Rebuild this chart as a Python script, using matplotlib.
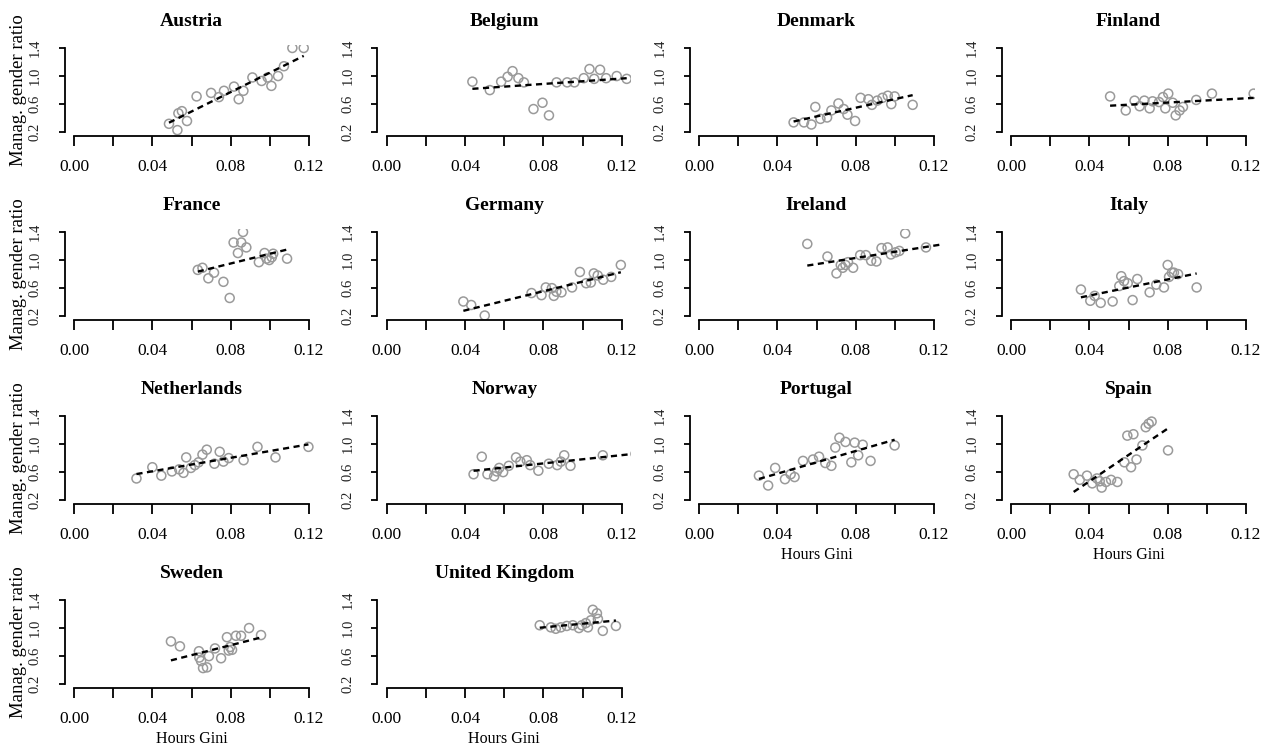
import numpy as np
import matplotlib.pyplot as plt

plt.rcParams['font.family'] = ['Liberation Serif', 'DejaVu Serif']

# hours Gini (x) and managerial gender ratio (y), one pair of arrays per country
austria_x = [0.0485, 0.0528, 0.0533, 0.0551, 0.0577, 0.0626, 0.0700, 0.0740, 0.0766, 0.0817,
             0.0841, 0.0865, 0.0911, 0.0958, 0.0989, 0.1008, 0.1042, 0.1072, 0.1115, 0.1173]
austria_y = [0.32, 0.23, 0.47, 0.50, 0.36, 0.71, 0.76, 0.70, 0.79, 0.85,
             0.67, 0.79, 0.98, 0.93, 0.98, 0.86, 1.00, 1.14, 1.40, 1.40]

belgium_x = [0.0437, 0.0526, 0.0584, 0.0617, 0.0642, 0.0672, 0.0700, 0.0749, 0.0795, 0.0828,
             0.0867, 0.0921, 0.0958, 0.1006, 0.1035, 0.1059, 0.1089, 0.1120, 0.1174, 0.1225]
belgium_y = [0.92, 0.80, 0.92, 0.99, 1.07, 0.97, 0.91, 0.53, 0.62, 0.44,
             0.91, 0.91, 0.91, 0.97, 1.10, 0.96, 1.09, 0.97, 1.00, 0.96]

denmark_x = [0.0483, 0.0536, 0.0574, 0.0594, 0.0620, 0.0654, 0.0676, 0.0712, 0.0739, 0.0758,
             0.0797, 0.0825, 0.0865, 0.0883, 0.0910, 0.0937, 0.0964, 0.0982, 0.0999, 0.1091]
denmark_y = [0.34, 0.34, 0.31, 0.56, 0.39, 0.41, 0.51, 0.61, 0.53, 0.45,
             0.36, 0.69, 0.67, 0.59, 0.65, 0.69, 0.72, 0.60, 0.71, 0.59]

finland_x = [0.0506, 0.0586, 0.0631, 0.0657, 0.0681, 0.0708, 0.0723, 0.0756, 0.0776, 0.0788,
             0.0803, 0.0826, 0.0841, 0.0861, 0.0878, 0.0946, 0.1026, 0.1239]
finland_y = [0.71, 0.51, 0.65, 0.57, 0.65, 0.54, 0.64, 0.63, 0.70, 0.54,
             0.75, 0.62, 0.44, 0.51, 0.56, 0.66, 0.75, 0.75]

france_x = [0.0632, 0.0656, 0.0686, 0.0715, 0.0763, 0.0795, 0.0815, 0.0837, 0.0854, 0.0863,
            0.0880, 0.0944, 0.0973, 0.0983, 0.0997, 0.1010, 0.1017, 0.1088]
france_y = [0.86, 0.89, 0.74, 0.82, 0.69, 0.46, 1.25, 1.10, 1.25, 1.40,
            1.18, 0.97, 1.10, 1.02, 1.00, 1.04, 1.09, 1.02]

germany_x = [0.0391, 0.0431, 0.0500, 0.0739, 0.0790, 0.0812, 0.0843, 0.0853, 0.0866, 0.0892,
             0.0946, 0.0986, 0.1018, 0.1042, 0.1057, 0.1077, 0.1105, 0.1146, 0.1195]
germany_y = [0.41, 0.36, 0.21, 0.53, 0.50, 0.61, 0.60, 0.49, 0.55, 0.54,
             0.61, 0.83, 0.67, 0.68, 0.81, 0.78, 0.72, 0.76, 0.93]

ireland_x = [0.0553, 0.0656, 0.0702, 0.0724, 0.0734, 0.0748, 0.0761, 0.0787, 0.0823, 0.0852,
             0.0879, 0.0906, 0.0932, 0.0963, 0.0980, 0.1004, 0.1023, 0.1053, 0.1159, 0.1280]
ireland_y = [1.23, 1.05, 0.81, 0.93, 0.89, 0.93, 0.97, 0.89, 1.07, 1.07,
             0.99, 0.98, 1.17, 1.18, 1.08, 1.11, 1.13, 1.38, 1.18, 1.22]

italy_x = [0.0357, 0.0405, 0.0427, 0.0458, 0.0519, 0.0553, 0.0563, 0.0577, 0.0596, 0.0621,
           0.0645, 0.0708, 0.0742, 0.0781, 0.0800, 0.0807, 0.0822, 0.0832, 0.0853, 0.0948]
italy_y = [0.58, 0.42, 0.49, 0.39, 0.41, 0.63, 0.77, 0.70, 0.67, 0.43,
           0.73, 0.54, 0.65, 0.61, 0.93, 0.76, 0.82, 0.82, 0.80, 0.61]

netherlands_x = [0.0319, 0.0400, 0.0446, 0.0500, 0.0537, 0.0559, 0.0573, 0.0597, 0.0617, 0.0636,
                 0.0656, 0.0678, 0.0717, 0.0744, 0.0763, 0.0790, 0.0866, 0.0937, 0.1029, 0.1197]
netherlands_y = [0.51, 0.67, 0.55, 0.61, 0.64, 0.59, 0.81, 0.66, 0.70, 0.74,
                 0.85, 0.92, 0.72, 0.89, 0.75, 0.80, 0.77, 0.96, 0.81, 0.96]

norway_x = [0.0443, 0.0485, 0.0514, 0.0548, 0.0562, 0.0574, 0.0594, 0.0623, 0.0660, 0.0682,
            0.0715, 0.0732, 0.0774, 0.0827, 0.0870, 0.0889, 0.0906, 0.0938, 0.1103, 0.1270]
norway_y = [0.57, 0.82, 0.57, 0.54, 0.61, 0.66, 0.60, 0.69, 0.81, 0.75,
            0.77, 0.70, 0.62, 0.72, 0.70, 0.75, 0.84, 0.69, 0.84, 0.86]

portugal_x = [0.0306, 0.0353, 0.0389, 0.0439, 0.0468, 0.0488, 0.0531, 0.0582, 0.0613, 0.0645,
              0.0676, 0.0696, 0.0717, 0.0748, 0.0778, 0.0795, 0.0813, 0.0836, 0.0876, 0.0999]
portugal_y = [0.55, 0.41, 0.66, 0.50, 0.57, 0.53, 0.76, 0.78, 0.82, 0.73,
              0.69, 0.95, 1.09, 1.03, 0.74, 1.02, 0.84, 0.99, 0.76, 0.98]

spain_x = [0.0320, 0.0351, 0.0388, 0.0415, 0.0439, 0.0453, 0.0463, 0.0485, 0.0511, 0.0543,
           0.0579, 0.0594, 0.0613, 0.0625, 0.0641, 0.0671, 0.0688, 0.0703, 0.0718, 0.0802]
spain_y = [0.57, 0.49, 0.55, 0.44, 0.51, 0.47, 0.38, 0.46, 0.49, 0.46,
           0.74, 1.12, 0.67, 1.14, 0.78, 0.98, 1.24, 1.29, 1.32, 0.91]

sweden_x = [0.0495, 0.0541, 0.0638, 0.0640, 0.0649, 0.0659, 0.0679, 0.0689, 0.0720, 0.0751,
            0.0781, 0.0790, 0.0797, 0.0807, 0.0827, 0.0853, 0.0894, 0.0955]
sweden_y = [0.81, 0.74, 0.67, 0.58, 0.53, 0.43, 0.44, 0.60, 0.71, 0.57,
            0.87, 0.68, 0.73, 0.69, 0.89, 0.89, 1.00, 0.90]

uk_x = [0.0781, 0.0838, 0.0863, 0.0889, 0.0919, 0.0950, 0.0981, 0.0996, 0.1016, 0.1027,
        0.1042, 0.1052, 0.1073, 0.1078, 0.1103, 0.1170]
uk_y = [1.04, 1.01, 0.99, 1.01, 1.03, 1.04, 1.00, 1.04, 1.07, 1.01,
        1.11, 1.26, 1.21, 1.13, 0.96, 1.03]

countries = ['Austria', 'Belgium', 'Denmark', 'Finland', 'France', 'Germany', 'Ireland',
             'Italy', 'Netherlands', 'Norway', 'Portugal', 'Spain', 'Sweden', 'United Kingdom']
series = [(austria_x, austria_y), (belgium_x, belgium_y), (denmark_x, denmark_y),
          (finland_x, finland_y), (france_x, france_y), (germany_x, germany_y),
          (ireland_x, ireland_y), (italy_x, italy_y), (netherlands_x, netherlands_y),
          (norway_x, norway_y), (portugal_x, portugal_y), (spain_x, spain_y),
          (sweden_x, sweden_y), (uk_x, uk_y)]

x_ticks = [0.00, 0.02, 0.04, 0.06, 0.08, 0.10, 0.12]
x_labels = ['0.00', '', '0.04', '', '0.08', '', '0.12']
y_ticks = [0.2, 0.6, 1.0, 1.4]
y_labels = ['0.2', '0.6', '1.0', '1.4']
bottom_panels = ['Portugal', 'Spain', 'Sweden', 'United Kingdom']

W, H = 1266, 747
fig = plt.figure(figsize=(W / 100, H / 100), dpi=100)

# plot regions in pixels, laid out like par(mfrow=c(4,4))
col_left = [64.6, 377.4, 689.6, 1001.6]
row_top = [44.6, 228.6, 412.6, 596.6]
pw, ph = 253.8, 91.0

for i, (name, (gx, gy)) in enumerate(zip(countries, series)):
    r, c = divmod(i, 4)
    ax = fig.add_axes([col_left[c] / W, 1 - (row_top[r] + ph) / H, pw / W, ph / H])
    gx = np.array(gx)
    gy = np.array(gy)

    ax.scatter(gx, gy, s=42, facecolors='none', edgecolors='#9a9a9a', linewidths=1.1, zorder=2)

    # least squares line over the observed range
    b1, b0 = np.polyfit(gx, gy, 1)
    xs = np.array([gx.min(), gx.max()])
    ax.plot(xs, b0 + b1 * xs, color='black', lw=1.7, dashes=(2.6, 1.9), zorder=3)

    ax.set_xlim(-0.0048, 0.1248)
    ax.set_ylim(0.152, 1.448)
    for s in ['top', 'right']:
        ax.spines[s].set_visible(False)
    ax.spines['left'].set_bounds(0.2, 1.4)
    ax.spines['bottom'].set_bounds(0.0, 0.12)
    for s in ['left', 'bottom']:
        ax.spines[s].set_linewidth(1.3)
    ax.set_xticks(x_ticks)
    ax.set_xticklabels(x_labels)
    ax.set_yticks(y_ticks)
    ax.set_yticklabels(y_labels, rotation=90, va='center')
    ax.tick_params(axis='x', direction='out', length=7.5, width=1.3, pad=9, labelsize=12.5)
    ax.tick_params(axis='y', direction='out', length=4.5, width=1.3, pad=12, labelsize=10.5,
                   labelcolor='#222222')

    ax.text(0.5, 1 + 23 / ph, name, transform=ax.transAxes, ha='center', va='center',
            fontsize=14, fontweight='bold')
    if c == 0:
        ax.text(-46.5 / pw, 0.5, 'Manag. gender ratio', transform=ax.transAxes,
                rotation=90, ha='center', va='center', fontsize=13.5)
    if name in bottom_panels:
        ax.text(0.5, -51 / ph, 'Hours Gini', transform=ax.transAxes,
                ha='center', va='center', fontsize=11.5)

fig.savefig('out.png', dpi=100)
